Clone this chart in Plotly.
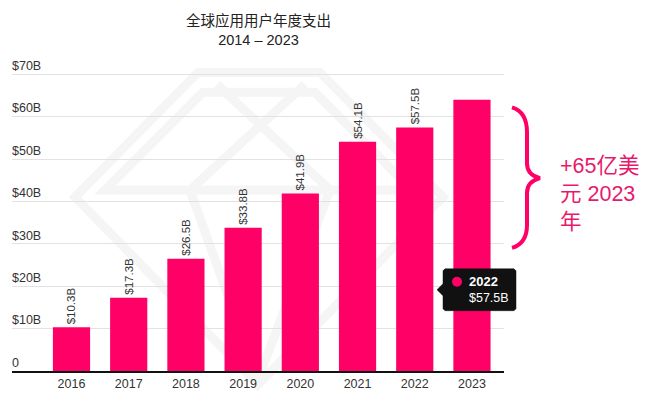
import plotly.graph_objects as go

# ---- data ----
years = ["2016", "2017", "2018", "2019", "2020", "2021", "2022", "2023"]
spend = [10.3, 17.3, 26.5, 33.8, 41.9, 54.1, 57.5, 64.0]
bar_labels = ["$10.3B", "$17.3B", "$26.5B", "$33.8B", "$41.9B", "$54.1B", "$57.5B", ""]
y_tickvals = [0, 10, 20, 30, 40, 50, 60, 70]
y_ticktext = ["0", "$10B", "$20B", "$30B", "$40B", "$50B", "$60B", "$70B"]
title_lines = ["全球应用用户年度支出", "2014 – 2023"]
callout_text = "+65亿美<br>元 2023<br>年"
tip_index = 6

PINK = "#FF0066"
TXT_PINK = "#E8196C"
FONT = "Helvetica Neue, Helvetica, Arial, Liberation Sans, Noto Sans CJK SC, sans-serif"

W, H = 650, 397
Y_TOP = 76
L, R, B = 12, 504, 371.5
T = B - Y_TOP * 4.25
PW, PH = R - L, B - T


def px(x, y):
    return (x - L) / PW, (B - y) / PH


def path(points, close=False):
    s = ""
    for i, (x, y) in enumerate(points):
        xx, yy = px(x, y)
        s += ("M" if i == 0 else "L") + f"{xx:.5f},{yy:.5f} "
    if close:
        s += "Z"
    return s


def bpath(pts):
    out = []
    for p in pts:
        if isinstance(p, str):
            out.append(p)
        else:
            xx, yy = px(*p)
            out.append(f"{xx:.5f},{yy:.5f}")
    return " ".join(out)


fig = go.Figure()
fig.add_trace(go.Bar(
    x=years, y=spend, marker=dict(color=PINK, line=dict(width=0)),
    text=bar_labels, textposition="outside", textangle=-90,
    textfont=dict(size=11.5, color="#333", family=FONT),
    constraintext="none", cliponaxis=False, hoverinfo="skip", width=0.65,
))

shapes = []
# faint watermark
wm = dict(type="path", xref="paper", yref="paper", layer="below",
          line=dict(color="#f5f5f5", width=9))
shapes.append(dict(wm, path=path([(198, 72), (320, 72), (443, 197), (258, 385), (75, 197)], True)))
shapes.append(dict(wm, path=path([(203, 92), (315, 92), (412, 190), (105, 190)], True)))
shapes.append(dict(wm, path=path([(217, 84), (330, 190), (258, 380), (190, 190), (305, 84)])))

# brace
brace = bpath(["M", (512, 107), "C", (522, 110), (527, 118), (527, 132),
               "L", (527, 163), "C", (527, 172), (532, 176), (540, 178),
               "C", (532, 180), (527, 184), (527, 193),
               "L", (527, 225), "C", (527, 238), (522, 245), (512, 248)])
shapes.append(dict(type="path", xref="paper", yref="paper", path=brace,
                   line=dict(color=PINK, width=4)))

# tooltip
shapes.append(dict(type="path", xref="paper", yref="paper",
                   path=path([(445, 269), (514, 269), (516, 271), (516, 309), (514, 311),
                              (445, 311), (443, 309), (443, 296), (437, 290), (443, 284),
                              (443, 271)], True),
                   fillcolor="#111111", line=dict(color="#111111", width=0.5)))
cx0, cy0 = px(452, 277)
cx1, cy1 = px(462, 287)
shapes.append(dict(type="circle", xref="paper", yref="paper", x0=cx0, y0=cy1, x1=cx1, y1=cy0,
                   fillcolor=PINK, line=dict(width=0)))

annotations = []
ax, ay = px(258, 29)
annotations.append(dict(x=ax, y=ay, xref="paper", yref="paper", showarrow=False,
                        xanchor="center", yanchor="middle",
                        text="<br>".join(title_lines), align="center",
                        font=dict(size=14.5, color="#222", family=FONT)))
ax, ay = px(558, 194)
annotations.append(dict(x=ax, y=ay, xref="paper", yref="paper", showarrow=False,
                        xanchor="left", yanchor="middle", align="left",
                        text=callout_text,
                        font=dict(size=21.5, color=TXT_PINK, family=FONT)))
ax, ay = px(467, 282)
annotations.append(dict(x=ax, y=ay, xref="paper", yref="paper", showarrow=False,
                        xanchor="left", yanchor="middle",
                        text=f"<b>{years[tip_index]}</b>",
                        font=dict(size=13, color="white", family=FONT)))
ax, ay = px(467, 298)
annotations.append(dict(x=ax, y=ay, xref="paper", yref="paper", showarrow=False,
                        xanchor="left", yanchor="middle",
                        text=f"${spend[tip_index]}B",
                        font=dict(size=12.5, color="white", family=FONT)))

fig.update_layout(
    width=W, height=H, margin=dict(l=L, r=W - R, t=T, b=H - B, autoexpand=False),
    paper_bgcolor="white", plot_bgcolor="rgba(0,0,0,0)",
    showlegend=False, bargap=0.35,
    shapes=shapes, annotations=annotations,
    xaxis=dict(type="category", range=[-1.04, 7.56], showgrid=False, automargin=False,
               showline=True, linecolor="#111", linewidth=1.5, ticks="",
               tickfont=dict(size=12.5, color="#333", family=FONT), fixedrange=True),
    yaxis=dict(range=[0, Y_TOP], tickvals=y_tickvals, ticktext=y_ticktext, automargin=False,
               showgrid=True, gridcolor="#e2e2e2", gridwidth=1, zeroline=False,
               ticklabelposition="inside top", ticks="", ticklabelstandoff=-3,
               tickfont=dict(size=12.5, color="#333", family=FONT), fixedrange=True),
)

fig.write_html("out.html", config={"displayModeBar": False},
               post_script="document.body.style.margin='0';")
